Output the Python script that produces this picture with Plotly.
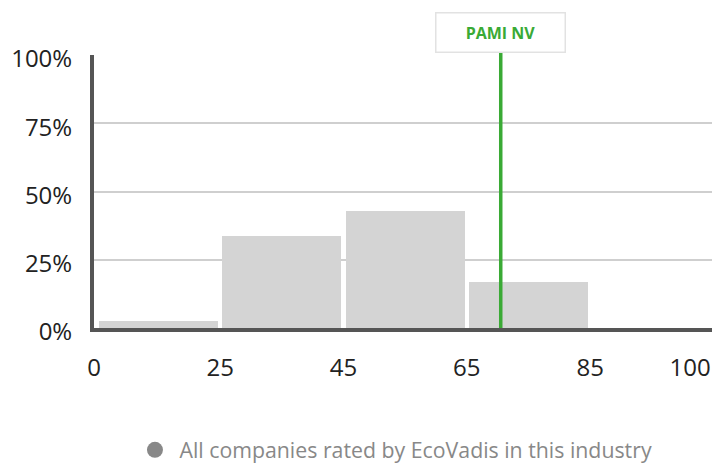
import plotly.graph_objects as go

# ---- data ----
BIN_LABELS = ["0", "25", "45", "65", "85", "100"]      # bin edges (score)
BIN_LO = [0, 25, 45, 65, 85]
BIN_HI = [25, 45, 65, 85, 100]
SHARE = [0.027, 0.338, 0.429, 0.169, 0.0]             # share of companies per bin
COMPANY = "PAMI NV"
COMPANY_SCORE = 70.5
LEGEND_LABEL = "All companies rated by EcoVadis in this industry"
Y_TICKS = [0, 0.25, 0.5, 0.75, 1.0]
Y_TICK_TEXT = ["0%", "25%", "50%", "75%", "100%"]

# ---- helpers: the chart uses equal-width bins on a score axis ----
def score_to_pos(s):
    for i, (lo, hi) in enumerate(zip(BIN_LO, BIN_HI)):
        if lo <= s <= hi:
            return i + (s - lo) / (hi - lo)
    return len(BIN_LO)

centers = [i + 0.5 for i in range(len(SHARE))]
X_RANGE = [-0.023, 4.988]

FONT = "Open Sans, Noto Sans, sans-serif"
GREEN = "#3aaa35"

fig = go.Figure()
fig.add_trace(go.Bar(
    x=centers, y=SHARE, width=0.965,
    marker=dict(color="#d4d4d4", line=dict(width=0)),
    showlegend=False, hoverinfo="skip",
))
fig.add_trace(go.Scatter(
    x=[None], y=[None], mode="markers", name=LEGEND_LABEL,
    marker=dict(color="#888888", size=20, symbol="circle"),
))

cx = score_to_pos(COMPANY_SCORE)
fig.add_shape(type="line", xref="x", yref="paper", x0=cx, x1=cx, y0=0, y1=1.011,
              line=dict(color=GREEN, width=3.5), layer="above")
fig.add_annotation(xref="x", yref="paper", x=cx, y=1.084, yanchor="middle",
                   text="<b>%s</b>" % COMPANY, showarrow=False,
                   font=dict(family=FONT, size=16, color=GREEN),
                   bgcolor="#ffffff", bordercolor="#e2e2e2", borderwidth=1.5,
                   width=126, height=36, borderpad=1)

tickvals = [X_RANGE[0], 1, 2, 3, 4, 4.81]
fig.update_layout(
    width=715, height=466,
    margin=dict(l=94, r=3, t=55, b=138),
    paper_bgcolor="#ffffff", plot_bgcolor="#ffffff",
    font=dict(family=FONT, size=24, color="#222222"),
    bargap=0,
    xaxis=dict(range=X_RANGE, tickvals=tickvals, ticktext=BIN_LABELS,
               automargin=False,
               showgrid=False, zeroline=False, showline=True,
               linecolor="#555555", linewidth=4, ticks="", ticklabelstandoff=15,
               tickfont=dict(size=24, color="#222222")),
    yaxis=dict(range=[0, 1], tickvals=Y_TICKS, ticktext=Y_TICK_TEXT,
               automargin=False,
               showgrid=True, gridcolor="#cfcfcf", gridwidth=1.5,
               zeroline=False, showline=True, linecolor="#555555", linewidth=4,
               ticks="", ticklabelstandoff=13, ticklabelshift=4,
               tickfont=dict(size=24, color="#222222")),
    legend=dict(orientation="h", xref="container", yref="container",
                x=0.551, xanchor="center", y=0.0343, yanchor="middle",
                itemwidth=39,
                font=dict(family=FONT, size=21.3, color="#888888")),
    showlegend=True,
)

fig.write_html("out.html", config={"displayModeBar": False},
               post_script="document.body.style.margin='0';")
